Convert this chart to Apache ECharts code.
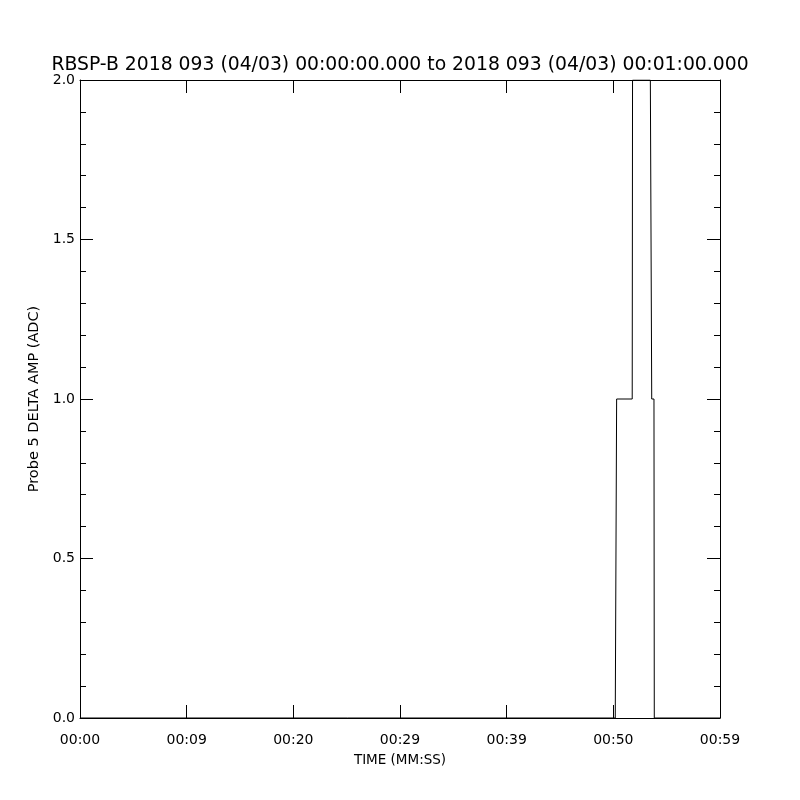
<!DOCTYPE html>
<html>
<head>
<meta charset="utf-8">
<script src="https://cdn.jsdelivr.net/npm/echarts@6/dist/echarts.min.js"></script>
<style>html,body{margin:0;padding:0;background:#fff}#c{width:800px;height:800px}</style>
</head>
<body>
<div id="c"></div>
<script>
var titleText = 'RBSP-B 2018 093 (04/03) 00:00:00.000 to 2018 093 (04/03) 00:01:00.000';
var xName = 'TIME (MM:SS)';
var yName = 'Probe 5 DELTA AMP (ADC)';
var xTickLabels = ['00:00', '00:09', '00:20', '00:29', '00:39', '00:50', '00:59'];
var yTickLabels = ['0.0', '0.5', '1.0', '1.5', '2.0'];
// seconds since 00:00:00
var times  = [0, 50.18, 50.31, 51.77, 51.80, 53.47, 53.60, 53.81, 53.84, 60];
var values = [0, 0,     1,     1,     2,     2,     1,     1,     0,     0];

var FONT = 'DejaVu Sans';
var seriesData = times.map(function (t, i) { return [t, values[i]]; });

function xAxisCfg(pos, showLabel) {
  return {
    type: 'value', position: pos, min: 0, max: 60, interval: 10,
    axisLine: { show: true, onZero: false, lineStyle: { color: '#000', width: 1 } },
    axisTick: { show: true, inside: true, length: 13, lineStyle: { color: '#000', width: 1 } },
    minorTick: { show: false },
    splitLine: { show: false },
    axisLabel: {
      show: showLabel, color: '#000', fontFamily: FONT, fontSize: 14, margin: 15,
      formatter: function (v) { return xTickLabels[Math.round(v / 10)]; }
    }
  };
}
function yAxisCfg(pos, showLabel) {
  return {
    type: 'value', position: pos, min: 0, max: 2, interval: 0.5,
    axisLine: { show: true, onZero: false, lineStyle: { color: '#000', width: 1 } },
    axisTick: { show: true, inside: true, length: 13, lineStyle: { color: '#000', width: 1 } },
    minorTick: { show: true, splitNumber: 5, length: 6, lineStyle: { color: '#000', width: 1 } },
    splitLine: { show: false },
    minorSplitLine: { show: false },
    axisLabel: {
      show: showLabel, color: '#000', fontFamily: FONT, fontSize: 14, margin: 5,
      formatter: function (v) { return yTickLabels[Math.round(v / 0.5)]; }
    }
  };
}

var xb = xAxisCfg('bottom', true);
xb.name = xName; xb.nameLocation = 'middle'; xb.nameGap = 35;
xb.nameTextStyle = { color: '#000', fontFamily: FONT, fontSize: 13.5 };
var yl = yAxisCfg('left', true);
yl.name = yName; yl.nameLocation = 'middle'; yl.nameGap = 25; yl.nameRotate = 90;
yl.nameTextStyle = { color: '#000', fontFamily: FONT, fontSize: 14.5 };

var chart = echarts.init(document.getElementById('c'), null, { renderer: 'canvas' });
chart.setOption({
  backgroundColor: '#fff',
  animation: false,
  title: {
    text: titleText, left: 'center', top: 51,
    textStyle: { color: '#000', fontFamily: FONT, fontSize: 18.8, fontWeight: 'normal' }
  },
  grid: { left: 80, right: 80, top: 80, bottom: 82, containLabel: false },
  xAxis: [xb, xAxisCfg('top', false)],
  yAxis: [yl, yAxisCfg('right', false)],
  series: [{
    type: 'line', xAxisIndex: 0, yAxisIndex: 0,
    data: seriesData, showSymbol: false, symbol: 'none',
    lineStyle: { color: '#000', width: 1 }, clip: true
  }]
});
</script>
</body>
</html>
